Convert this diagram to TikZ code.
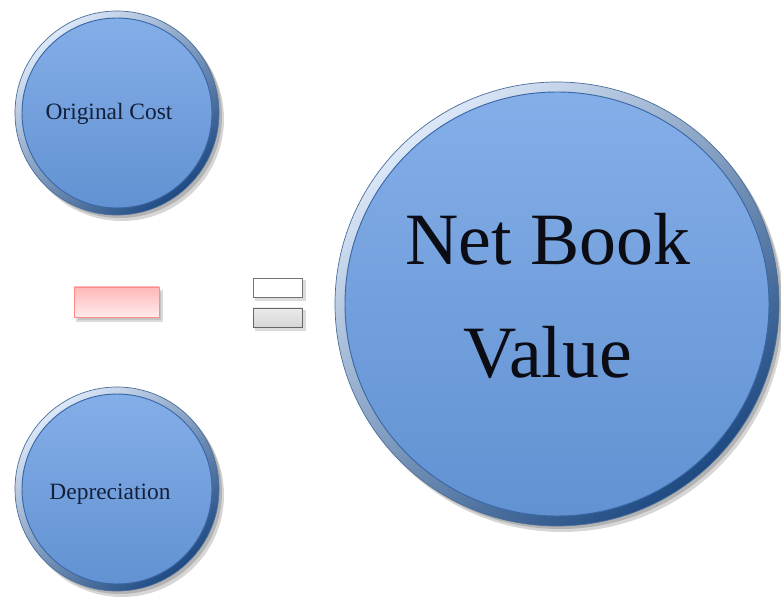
\documentclass[tikz,border=0pt]{standalone}
\usepackage{fontspec}
\setmainfont{Liberation Serif}
\usetikzlibrary{shadings}
\definecolor{txt}{HTML}{14203A}
\definecolor{bigtxt}{HTML}{0C0C14}
\definecolor{ringlight}{HTML}{DCE8F8}
\definecolor{ringdark}{HTML}{1E4A82}
\definecolor{disctop}{HTML}{84AEE8}
\definecolor{discbot}{HTML}{6292D2}
\definecolor{edge}{HTML}{3A68A6}
\tikzset{
  lbl/.style={align=center, inner sep=0pt},
  smalllbl/.style={lbl, text=txt, font=\fontsize{20}{24}\selectfont},
  biglbl/.style={lbl, text=bigtxt, font=\fontsize{63}{96}\selectfont},
  shadowfill/.style={fill=black, opacity=0.16},
  ringshade/.style={top color=ringlight, bottom color=ringdark, shading angle=40},
  discshade/.style={top color=disctop, bottom color=discbot},
  discedge/.style={draw=edge, line width=0.8pt},
  minusbox/.style={draw=red!45!white, line width=0.6pt, top color=red!28!white, bottom color=red!8!white},
  eqtop/.style={draw=black!55, line width=0.8pt, fill=white},
  eqbot/.style={draw=black!60, line width=0.8pt, top color=black!8, bottom color=black!16},
  boxshadow/.style={fill=black!40, opacity=0.35}
}
\newcommand{\mydisc}[4]{%
  % #1 x, #2 y, #3 radius, #4 ring width
  \fill[shadowfill] (#1+5,#2+6) circle[radius=#3];
  \fill[shadowfill] (#1+3,#2+3) circle[radius=#3];
  \shade[ringshade] (#1,#2) circle[radius=#3];
  \draw[ringdark!80, line width=0.6pt] (#1,#2) circle[radius=#3];
  \shade[discshade] (#1,#2) circle[radius=#3-#4];
  \draw[discedge] (#1,#2) circle[radius=#3-#4];
}
\begin{document}
\begin{tikzpicture}[x=0.03cm,y=-0.03cm]
\useasboundingbox[fill=white] (0,0) rectangle (781,598);

% Original Cost
\mydisc{117}{113}{102}{7}
\node[smalllbl] (oc) at (109,114) {Original Cost};

% Depreciation
\mydisc{117}{489}{102}{7}
\node[smalllbl] (dep) at (110,494) {Depreciation};

% Net Book Value
\mydisc{557}{304}{222}{10}
\node[biglbl] (nbv) at (548,296) {Net Book\\Value};

% minus sign
\fill[boxshadow] (76,290) rectangle (163,322);
\fill[boxshadow] (78,292) rectangle (161,320);
\node[minusbox, minimum width=85*0.03cm, minimum height=30*0.03cm, inner sep=0pt] (minus) at (116.5,302) {};

% equals sign
\fill[boxshadow] (255,280) rectangle (306,301);
\fill[boxshadow] (255,310) rectangle (306,331);
\node[eqtop, minimum width=49*0.03cm, minimum height=19*0.03cm, inner sep=0pt] (eq1) at (277.5,287.5) {};
\node[eqbot, minimum width=49*0.03cm, minimum height=19*0.03cm, inner sep=0pt] (eq2) at (277.5,317.5) {};
\end{tikzpicture}
\end{document}
